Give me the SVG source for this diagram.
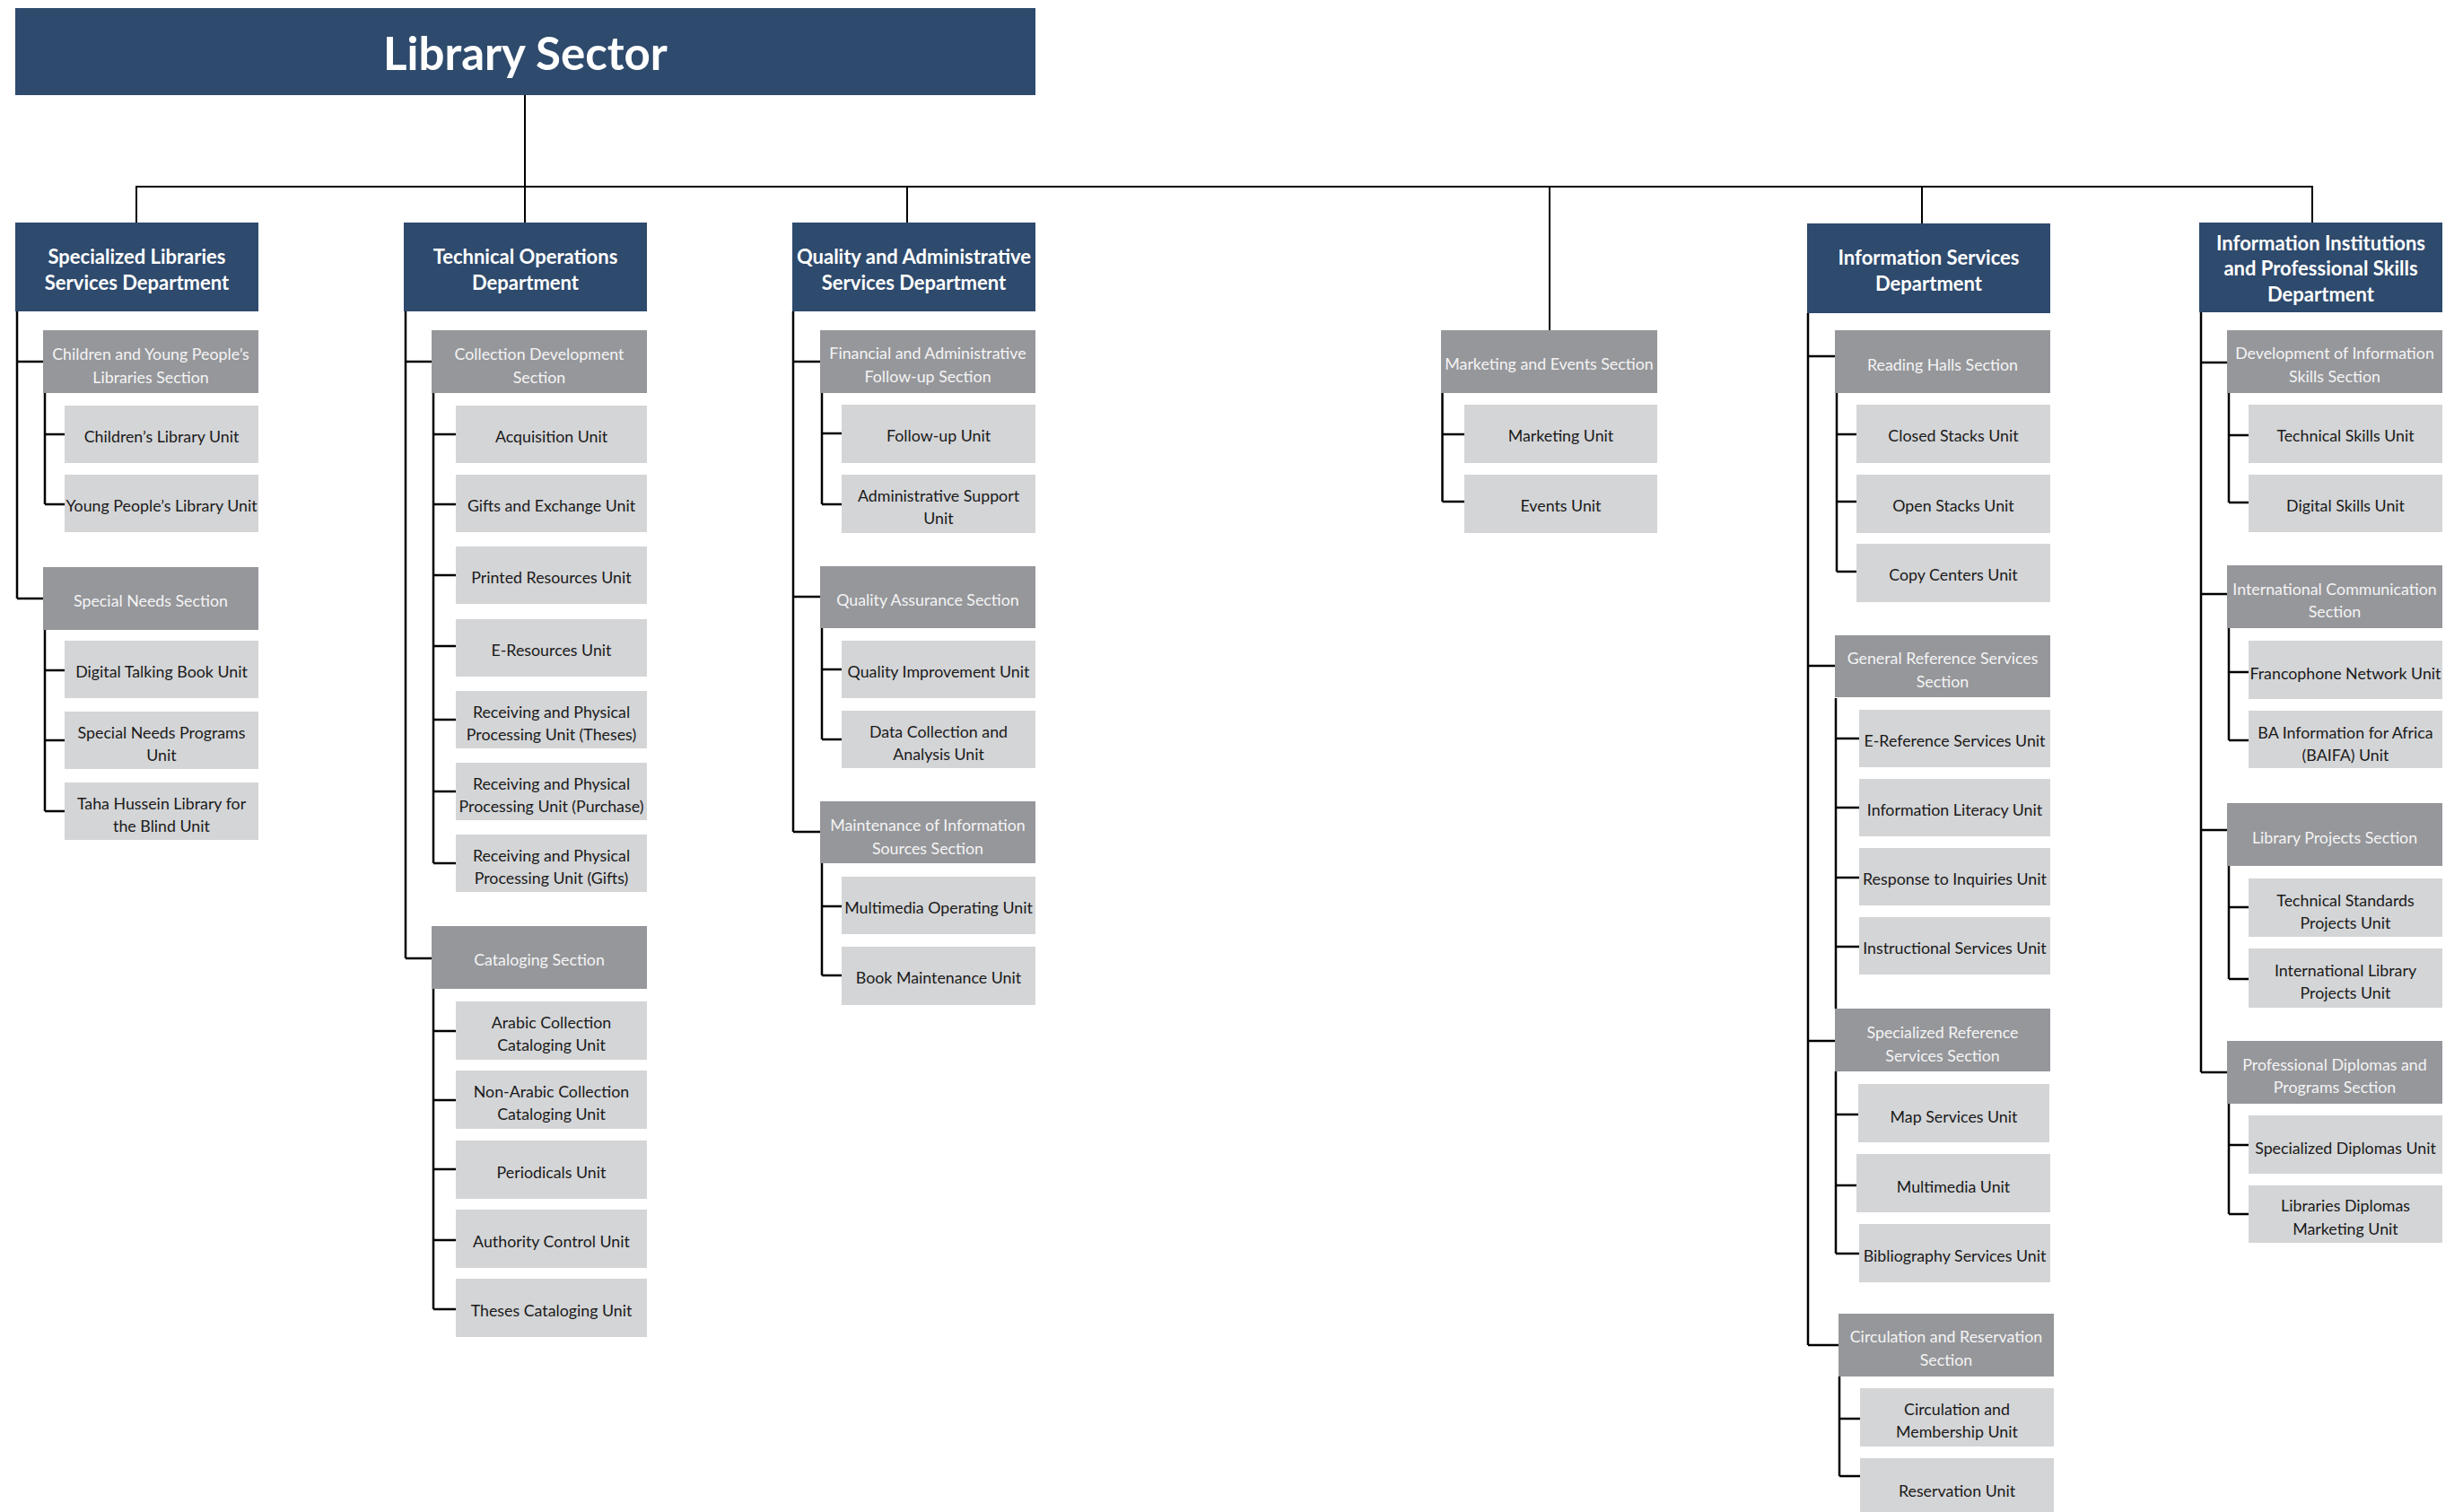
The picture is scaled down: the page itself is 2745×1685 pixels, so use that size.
<svg xmlns="http://www.w3.org/2000/svg" width="2745" height="1685" viewBox="0 0 2745 1685">
<style>
.bg{fill:#ffffff}
.t{fill:#2E4A6D}
.d{fill:#2E4A6D}
.s{fill:#96979B}
.u{fill:#D4D5D7}
text{font-family:Lato,"Open Sans","Liberation Sans",sans-serif;text-anchor:middle}
.tt{font-size:51px;font-weight:700;fill:#ffffff;transform:translateY(1.5px)}
.td{font-size:22px;font-weight:700;fill:#ffffff}
.ts{font-size:17.8px;fill:#F4F4F4;transform:translateY(2.5px)}
.tu{font-size:17.8px;fill:#1A1A1A;transform:translateY(2.5px)}
.c{fill:none;stroke:#000000;stroke-width:2.5}
.c2{fill:none;stroke:#000000;stroke-width:2}
</style>
<rect class="bg" x="0" y="0" width="2745" height="1685"/>

<g id="connectors">
<path class="c2" d="M585 106V248M152 248V208H2577V248M1011 208V248M1727 208V368M2142 208V249"/>
<path class="c" d="M19 347V667M19 403H48M19 667H48M50 438V562M50 484H72M50 562H72M50 702V904M50 747H72M50 825H72M50 904H72"/>
<path class="c" d="M452 347V1068M452 403H481M452 1068H481M483 438V962M483 484H508M483 562H508M483 641H508M483 720H508M483 802H508M483 882H508M483 962H508M483 1102V1459M483 1149H508M483 1226H508M483 1303H508M483 1382H508M483 1459H508"/>
<path class="c" d="M884 347V927M884 403H914M884 665H914M884 927H914M916 438V562M916 483H938M916 562H938M916 700V824M916 746H938M916 824H938M916 962V1087M916 1010H938M916 1087H938"/>
<path class="c" d="M1607.5 438V559M1607.5 484H1632M1607.5 559H1632"/>
<path class="c" d="M2015 349V1499M2015 397H2045M2015 742H2045M2015 1160H2045M2015 1499H2049M2047 438V637M2047 484H2069M2047 559H2069M2047 637H2069M2046 778V1124M2046 823H2072M2046 900H2072M2046 978H2072M2046 1055H2072M2046 1194V1397M2046 1242H2071M2046 1321H2069M2046 1397H2072M2050 1534V1645M2050 1581H2073M2050 1645H2073"/>
<path class="c" d="M2453 348V1195M2453 404H2482M2453 662H2482M2453 925H2482M2453 1195H2482M2484 438V560M2484 485H2506M2484 560H2506M2484 700V825M2484 749H2506M2484 825H2506M2484 965V1091M2484 1011H2506M2484 1091H2506M2484 1230V1353M2484 1276H2506M2484 1353H2506"/>
</g>

<g id="library-sector"><rect class="t" x="17" y="9" width="1137" height="97"/><text class="tt" x="585.5" y="76">Library Sector</text></g>

<!-- Column 1 -->
<g id="dept-specialized"><rect class="d" x="17" y="248" width="271" height="99"/><text class="td" x="152.5"><tspan x="152.5" y="294">Specialized Libraries</tspan><tspan x="152.5" y="322.5">Services Department</tspan></text></g>
<g id="sec-children-young"><rect class="s" x="48" y="368" width="240" height="70"/><text class="ts"><tspan x="168" y="398">Children and Young People’s</tspan><tspan x="168" y="424">Libraries Section</tspan></text></g>
<g id="unit-childrens"><rect class="u" x="72" y="452" width="216" height="64"/><text class="tu" x="180" y="490">Children’s Library Unit</text></g>
<g id="unit-young"><rect class="u" x="72" y="529" width="216" height="64"/><text class="tu" x="180" y="567">Young People’s Library Unit</text></g>
<g id="sec-special-needs"><rect class="s" x="48" y="632" width="240" height="70"/><text class="ts" x="168" y="673">Special Needs Section</text></g>
<g id="unit-dtb"><rect class="u" x="72" y="714" width="216" height="64"/><text class="tu" x="180" y="752">Digital Talking Book Unit</text></g>
<g id="unit-snp"><rect class="u" x="72" y="793" width="216" height="64"/><text class="tu"><tspan x="180" y="820">Special Needs Programs</tspan><tspan x="180" y="845">Unit</tspan></text></g>
<g id="unit-taha"><rect class="u" x="72" y="872" width="216" height="64"/><text class="tu"><tspan x="180" y="899">Taha Hussein Library for</tspan><tspan x="180" y="924">the Blind Unit</tspan></text></g>

<!-- Column 2 -->
<g id="dept-technical"><rect class="d" x="450" y="248" width="271" height="99"/><text class="td"><tspan x="585.5" y="294">Technical Operations</tspan><tspan x="585.5" y="322.5">Department</tspan></text></g>
<g id="sec-collection"><rect class="s" x="481" y="368" width="240" height="70"/><text class="ts"><tspan x="601" y="398">Collection Development</tspan><tspan x="601" y="424">Section</tspan></text></g>
<g id="unit-acquisition"><rect class="u" x="508" y="452" width="213" height="64"/><text class="tu" x="614.5" y="490">Acquisition Unit</text></g>
<g id="unit-gifts-exchange"><rect class="u" x="508" y="529" width="213" height="64"/><text class="tu" x="614.5" y="567">Gifts and Exchange Unit</text></g>
<g id="unit-printed"><rect class="u" x="508" y="609" width="213" height="64"/><text class="tu" x="614.5" y="647">Printed Resources Unit</text></g>
<g id="unit-eresources"><rect class="u" x="508" y="690" width="213" height="64"/><text class="tu" x="614.5" y="728">E-Resources Unit</text></g>
<g id="unit-rpp-theses"><rect class="u" x="508" y="770" width="213" height="64"/><text class="tu"><tspan x="614.5" y="797">Receiving and Physical</tspan><tspan x="614.5" y="822">Processing Unit (Theses)</tspan></text></g>
<g id="unit-rpp-purchase"><rect class="u" x="508" y="850" width="213" height="64"/><text class="tu"><tspan x="614.5" y="877">Receiving and Physical</tspan><tspan x="614.5" y="902">Processing Unit (Purchase)</tspan></text></g>
<g id="unit-rpp-gifts"><rect class="u" x="508" y="930" width="213" height="64"/><text class="tu"><tspan x="614.5" y="957">Receiving and Physical</tspan><tspan x="614.5" y="982">Processing Unit (Gifts)</tspan></text></g>
<g id="sec-cataloging"><rect class="s" x="481" y="1032" width="240" height="70"/><text class="ts" x="601" y="1073">Cataloging Section</text></g>
<g id="unit-arabic"><rect class="u" x="508" y="1116" width="213" height="65"/><text class="tu"><tspan x="614.5" y="1143.5">Arabic Collection</tspan><tspan x="614.5" y="1168.5">Cataloging Unit</tspan></text></g>
<g id="unit-nonarabic"><rect class="u" x="508" y="1193" width="213" height="65"/><text class="tu"><tspan x="614.5" y="1220.5">Non-Arabic Collection</tspan><tspan x="614.5" y="1245.5">Cataloging Unit</tspan></text></g>
<g id="unit-periodicals"><rect class="u" x="508" y="1271" width="213" height="65"/><text class="tu" x="614.5" y="1310">Periodicals Unit</text></g>
<g id="unit-authority"><rect class="u" x="508" y="1348" width="213" height="65"/><text class="tu" x="614.5" y="1387">Authority Control Unit</text></g>
<g id="unit-theses-cat"><rect class="u" x="508" y="1425" width="213" height="65"/><text class="tu" x="614.5" y="1464">Theses Cataloging Unit</text></g>

<!-- Column 3 -->
<g id="dept-quality"><rect class="d" x="883" y="248" width="271" height="99"/><text class="td"><tspan x="1018.5" y="294">Quality and Administrative</tspan><tspan x="1018.5" y="322.5">Services Department</tspan></text></g>
<g id="sec-financial"><rect class="s" x="914" y="368" width="240" height="70"/><text class="ts"><tspan x="1034" y="397">Financial and Administrative</tspan><tspan x="1034" y="423">Follow-up Section</tspan></text></g>
<g id="unit-followup"><rect class="u" x="938" y="451" width="216" height="65"/><text class="tu" x="1046" y="489">Follow-up Unit</text></g>
<g id="unit-admin-support"><rect class="u" x="938" y="529" width="216" height="65"/><text class="tu"><tspan x="1046" y="556">Administrative Support</tspan><tspan x="1046" y="581">Unit</tspan></text></g>
<g id="sec-qa"><rect class="s" x="914" y="631" width="240" height="69"/><text class="ts" x="1034" y="672">Quality Assurance Section</text></g>
<g id="unit-qi"><rect class="u" x="938" y="714" width="216" height="64"/><text class="tu" x="1046" y="752">Quality Improvement Unit</text></g>
<g id="unit-data"><rect class="u" x="938" y="792" width="216" height="64"/><text class="tu"><tspan x="1046" y="819">Data Collection and</tspan><tspan x="1046" y="844">Analysis Unit</tspan></text></g>
<g id="sec-maintenance"><rect class="s" x="914" y="893" width="240" height="69"/><text class="ts"><tspan x="1034" y="923">Maintenance of Information</tspan><tspan x="1034" y="949">Sources Section</tspan></text></g>
<g id="unit-multimedia-op"><rect class="u" x="938" y="977" width="216" height="64"/><text class="tu" x="1046" y="1015">Multimedia Operating Unit</text></g>
<g id="unit-book-maint"><rect class="u" x="938" y="1055" width="216" height="65"/><text class="tu" x="1046" y="1093">Book Maintenance Unit</text></g>

<!-- Column 4 -->
<g id="sec-marketing"><rect class="s" x="1606" y="368" width="241" height="70"/><text class="ts" x="1726.5" y="409">Marketing and Events Section</text></g>
<g id="unit-marketing"><rect class="u" x="1632" y="451" width="215" height="65"/><text class="tu" x="1739.5" y="489">Marketing Unit</text></g>
<g id="unit-events"><rect class="u" x="1632" y="529" width="215" height="65"/><text class="tu" x="1739.5" y="567">Events Unit</text></g>

<!-- Column 5 -->
<g id="dept-info-services"><rect class="d" x="2014" y="249" width="271" height="100"/><text class="td"><tspan x="2149.5" y="295">Information Services</tspan><tspan x="2149.5" y="323.5">Department</tspan></text></g>
<g id="sec-reading"><rect class="s" x="2045" y="368" width="240" height="70"/><text class="ts" x="2165" y="410">Reading Halls Section</text></g>
<g id="unit-closed"><rect class="u" x="2069" y="451" width="216" height="65"/><text class="tu" x="2177" y="489">Closed Stacks Unit</text></g>
<g id="unit-open"><rect class="u" x="2069" y="529" width="216" height="65"/><text class="tu" x="2177" y="567">Open Stacks Unit</text></g>
<g id="unit-copy"><rect class="u" x="2069" y="606" width="216" height="65"/><text class="tu" x="2177" y="644">Copy Centers Unit</text></g>
<g id="sec-general-ref"><rect class="s" x="2045" y="708" width="240" height="69"/><text class="ts"><tspan x="2165" y="737">General Reference Services</tspan><tspan x="2165" y="763">Section</tspan></text></g>
<g id="unit-eref"><rect class="u" x="2072" y="791" width="213" height="64"/><text class="tu" x="2178.5" y="829">E-Reference Services Unit</text></g>
<g id="unit-literacy"><rect class="u" x="2072" y="868" width="213" height="64"/><text class="tu" x="2178.5" y="906">Information Literacy Unit</text></g>
<g id="unit-inquiries"><rect class="u" x="2072" y="945" width="213" height="64"/><text class="tu" x="2178.5" y="983">Response to Inquiries Unit</text></g>
<g id="unit-instructional"><rect class="u" x="2072" y="1022" width="213" height="64"/><text class="tu" x="2178.5" y="1060">Instructional Services Unit</text></g>
<g id="sec-specialized-ref"><rect class="s" x="2045" y="1124" width="240" height="70"/><text class="ts"><tspan x="2165" y="1154">Specialized Reference</tspan><tspan x="2165" y="1180">Services Section</tspan></text></g>
<g id="unit-map"><rect class="u" x="2071" y="1208" width="213" height="65"/><text class="tu" x="2177.5" y="1248">Map Services Unit</text></g>
<g id="unit-multimedia"><rect class="u" x="2069" y="1286" width="216" height="65"/><text class="tu" x="2177" y="1326">Multimedia Unit</text></g>
<g id="unit-bibliography"><rect class="u" x="2072" y="1364" width="213" height="65"/><text class="tu" x="2178.5" y="1403">Bibliography Services Unit</text></g>
<g id="sec-circulation"><rect class="s" x="2049" y="1464" width="240" height="70"/><text class="ts"><tspan x="2169" y="1493">Circulation and Reservation</tspan><tspan x="2169" y="1519">Section</tspan></text></g>
<g id="unit-membership"><rect class="u" x="2073" y="1547" width="216" height="65"/><text class="tu"><tspan x="2181" y="1574">Circulation and</tspan><tspan x="2181" y="1599">Membership Unit</tspan></text></g>
<g id="unit-reservation"><rect class="u" x="2073" y="1625" width="216" height="64"/><text class="tu" x="2181" y="1665">Reservation Unit</text></g>

<!-- Column 6 -->
<g id="dept-info-institutions"><rect class="d" x="2451" y="248" width="271" height="100"/><text class="td"><tspan x="2586.5" y="278.5">Information Institutions</tspan><tspan x="2586.5" y="307">and Professional Skills</tspan><tspan x="2586.5" y="335.5">Department</tspan></text></g>
<g id="sec-dev-info"><rect class="s" x="2482" y="368" width="240" height="70"/><text class="ts"><tspan x="2602" y="397">Development of Information</tspan><tspan x="2602" y="423">Skills Section</tspan></text></g>
<g id="unit-tech-skills"><rect class="u" x="2506" y="451" width="216" height="65"/><text class="tu" x="2614" y="489">Technical Skills Unit</text></g>
<g id="unit-digital-skills"><rect class="u" x="2506" y="529" width="216" height="64"/><text class="tu" x="2614" y="567">Digital Skills Unit</text></g>
<g id="sec-intl-comm"><rect class="s" x="2482" y="630" width="240" height="70"/><text class="ts"><tspan x="2602" y="660">International Communication</tspan><tspan x="2602" y="685">Section</tspan></text></g>
<g id="unit-francophone"><rect class="u" x="2506" y="714" width="216" height="65"/><text class="tu" x="2614" y="754">Francophone Network Unit</text></g>
<g id="unit-baifa"><rect class="u" x="2506" y="792" width="216" height="64"/><text class="tu"><tspan x="2614" y="820">BA Information for Africa</tspan><tspan x="2614" y="845">(BAIFA) Unit</tspan></text></g>
<g id="sec-library-projects"><rect class="s" x="2482" y="895" width="240" height="70"/><text class="ts" x="2602" y="937">Library Projects Section</text></g>
<g id="unit-tech-standards"><rect class="u" x="2506" y="979" width="216" height="65"/><text class="tu"><tspan x="2614" y="1007">Technical Standards</tspan><tspan x="2614" y="1032">Projects Unit</tspan></text></g>
<g id="unit-intl-library"><rect class="u" x="2506" y="1057" width="216" height="66"/><text class="tu"><tspan x="2614" y="1085">International Library</tspan><tspan x="2614" y="1110">Projects Unit</tspan></text></g>
<g id="sec-prof-diplomas"><rect class="s" x="2482" y="1160" width="240" height="70"/><text class="ts"><tspan x="2602" y="1190">Professional Diplomas and</tspan><tspan x="2602" y="1215">Programs Section</tspan></text></g>
<g id="unit-spec-diplomas"><rect class="u" x="2506" y="1243" width="216" height="65"/><text class="tu" x="2614" y="1283">Specialized Diplomas Unit</text></g>
<g id="unit-lib-diplomas"><rect class="u" x="2506" y="1321" width="216" height="64"/><text class="tu"><tspan x="2614" y="1347.5">Libraries Diplomas</tspan><tspan x="2614" y="1373">Marketing Unit</tspan></text></g>
</svg>
